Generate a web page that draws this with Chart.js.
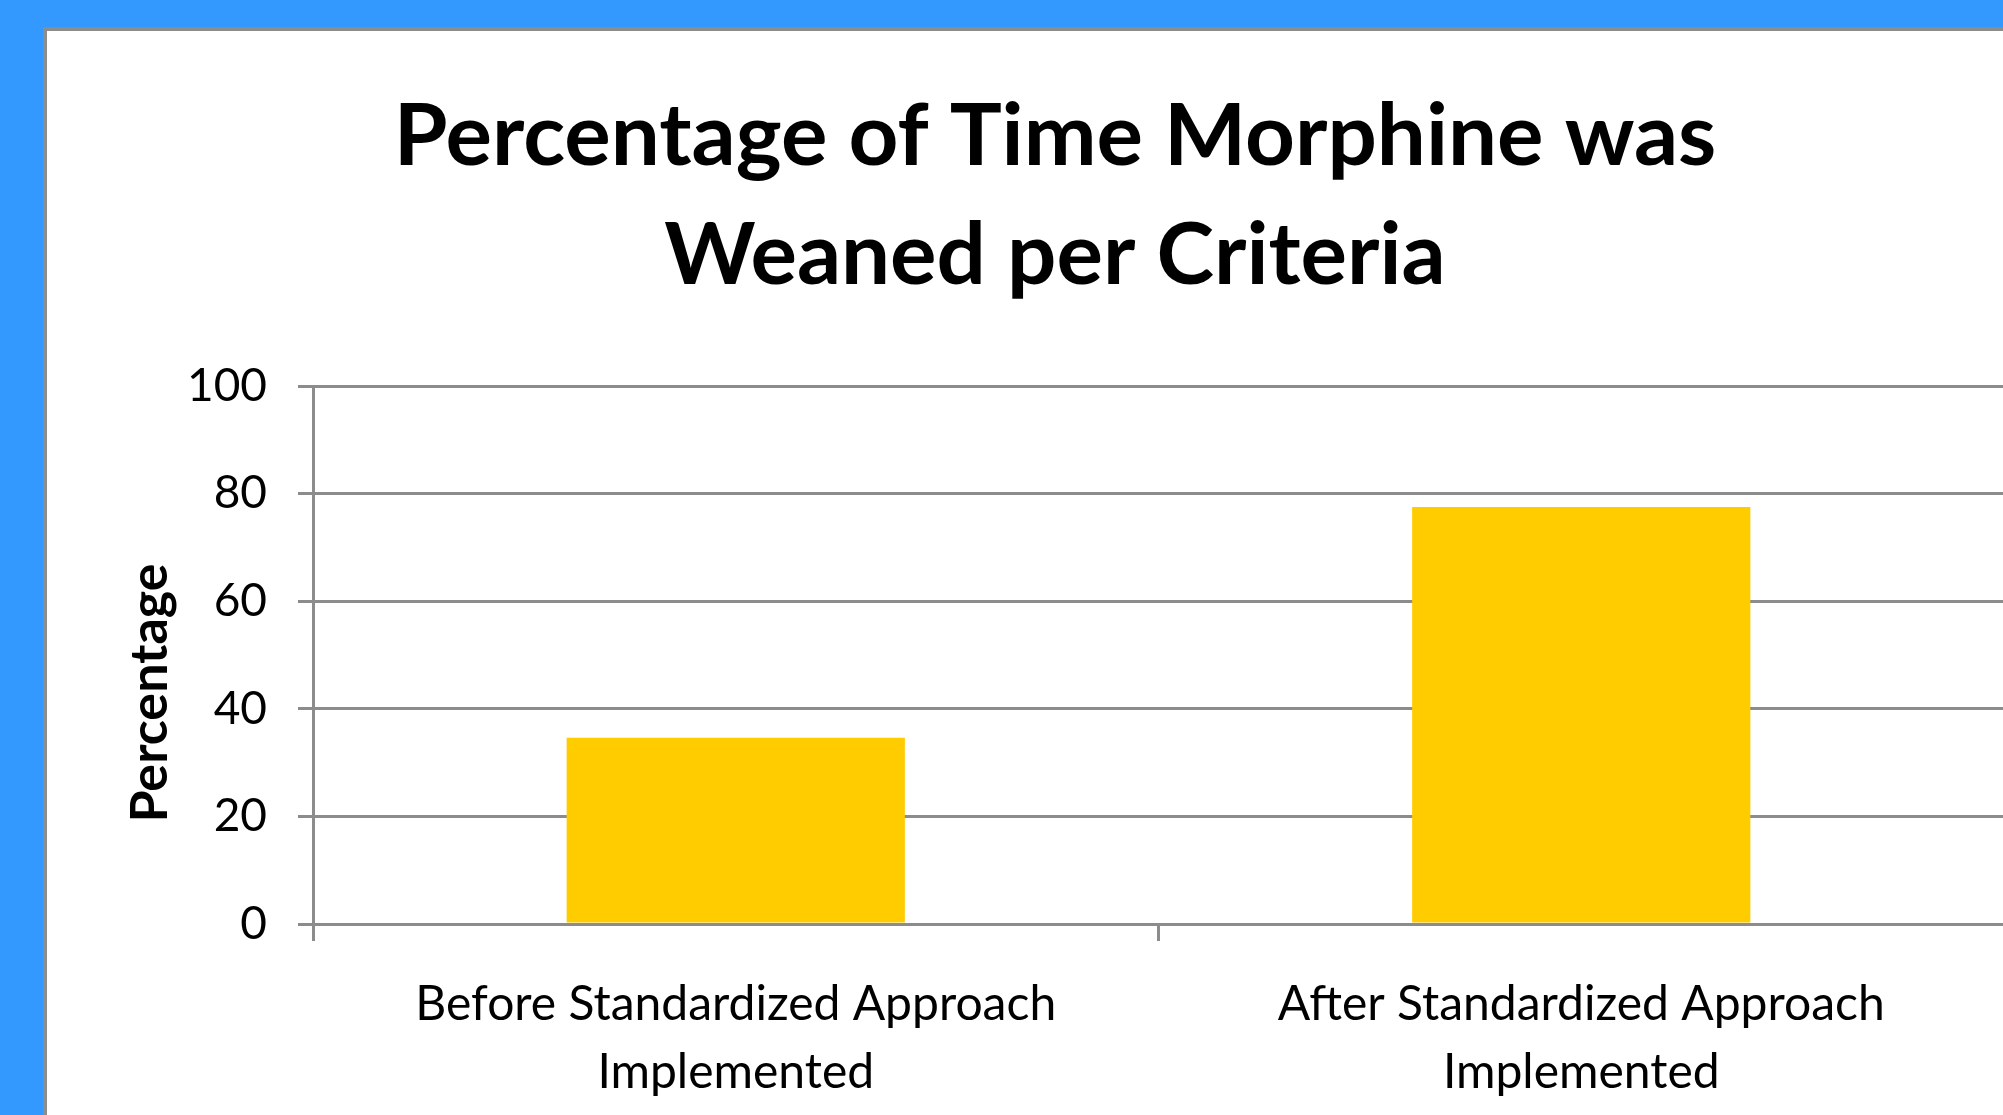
<!DOCTYPE html>
<html>
<head>
<meta charset="utf-8">
<title>Percentage of Time Morphine was Weaned per Criteria</title>
<script src="https://cdn.jsdelivr.net/npm/chart.js@4/dist/chart.umd.min.js"></script>
<style>
  html, body { margin: 0; padding: 0; width: 2003px; height: 1115px; overflow: hidden; background: #3399ff; }
  #panel { position: absolute; left: 43px; top: 27px; width: 2000px; height: 1200px; background: #fff;
           border-left: 4px solid #8c8c8c; border-top: 4px solid #8c8c8c; }
  #chart { position: absolute; left: 47px; top: 31px; }
</style>
</head>
<body>
<div id="panel"></div>
<canvas id="chart" width="1957" height="1084"></canvas>
<script>
// chart data
const categories = [
  ["Before Standardized Approach", "Implemented"],
  ["After Standardized Approach", "Implemented"],
];
const percentValues = [34.6, 77.5];
const yTicks = [0, 20, 40, 60, 80, 100];

const gridGrey = "#8c8c8c";

// y axis title, drawn a little below the middle of the axis like the original
const yTitlePlugin = {
  id: "yTitle",
  afterDraw: function (chart) {
    const y = chart.scales.y;
    const c = chart.ctx;
    c.save();
    c.translate(y.left + 44, (chart.chartArea.top + chart.chartArea.bottom) / 2 + 38);
    c.rotate(-Math.PI / 2);
    c.font = "bold 52px Lato, 'Open Sans', sans-serif";
    c.fillStyle = "#000";
    c.textAlign = "center";
    c.textBaseline = "middle";
    c.fillText("Percentage", 0, 0);
    c.restore();
  },
};

document.addEventListener("DOMContentLoaded", function () {
  Chart.defaults.font.family = "Lato, 'Open Sans', sans-serif";
  Chart.defaults.color = "#000";

  const ctx = document.getElementById("chart");
  new Chart(ctx, {
    type: "bar",
    data: {
      labels: categories,
      datasets: [
        {
          label: "Percentage",
          data: percentValues,
          backgroundColor: "#ffcc00",
          borderWidth: 0,
          barPercentage: 0.4,
          categoryPercentage: 1,
        },
      ],
    },
    plugins: [yTitlePlugin],
    options: {
      responsive: false,
      animation: false,
      layout: { padding: { left: 59, right: 0, top: 0, bottom: 0 } },
      plugins: {
        legend: { display: false },
        tooltip: { enabled: false },
        title: {
          display: true,
          text: ["Percentage of Time Morphine was", "Weaned per Criteria"],
          color: "#000",
          font: { size: 87, weight: "bold", lineHeight: "119px" },
          padding: { top: 46, bottom: 71 },
        },
      },
      scales: {
        x: {
          afterFit: function (scale) {
            scale.height = 191;
          },
          grid: {
            drawOnChartArea: false,
            drawTicks: true,
            tickLength: 17,
            color: gridGrey,
            lineWidth: 3,
            offset: true,
          },
          border: { display: true, color: gridGrey, width: 3 },
          ticks: {
            color: "#000",
            padding: 30,
            maxRotation: 0,
            font: { size: 48, lineHeight: "68px" },
          },
        },
        y: {
          min: 0,
          max: 100,
          afterFit: function (scale) {
            scale.width = 207;
          },
          afterBuildTicks: function (scale) {
            scale.ticks = yTicks.map(function (v) {
              return { value: v };
            });
          },
          grid: {
            color: gridGrey,
            lineWidth: 3,
            tickLength: 15,
          },
          border: { display: true, color: gridGrey, width: 3 },
          ticks: {
            color: "#000",
            padding: 31,
            font: { size: 46 },
          },
        },
      },
    },
  });
});
</script>
</body>
</html>
